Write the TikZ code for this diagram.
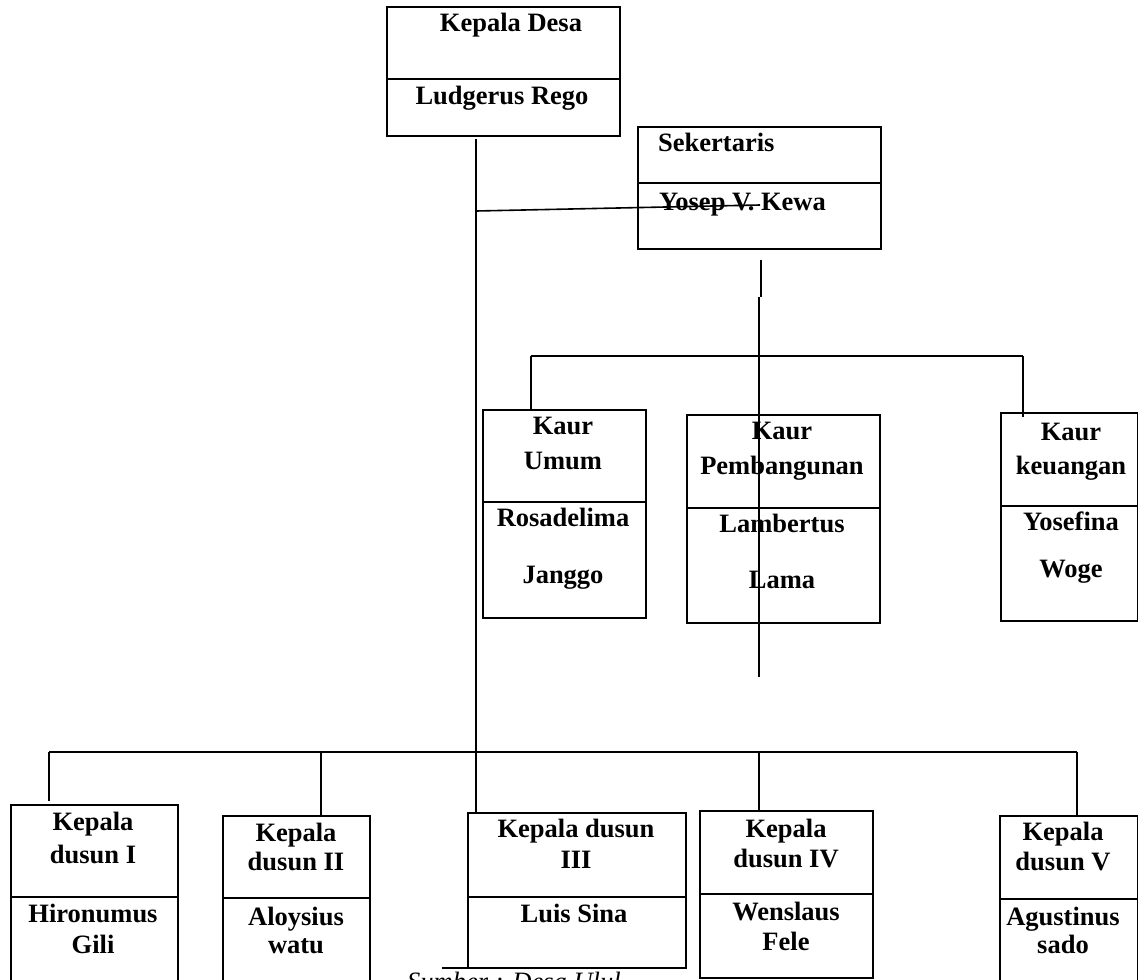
\documentclass[tikz,border=0pt]{standalone}
\usepackage{fontspec}
\setmainfont{Liberation Serif}
\tikzset{
  orgbox/.style={draw, line width=2.4pt, inner sep=0pt, anchor=north west},
  divline/.style={line width=2.4pt},
  conn/.style={line width=1.6pt},
  lbl/.style={font=\fontsize{26.5}{30}\selectfont\bfseries, anchor=base, inner sep=0pt},
  lblw/.style={lbl, anchor=base west},
  src/.style={font=\fontsize{26.5}{30}\selectfont\itshape, anchor=base west, inner sep=0pt},
}
% name, left, top, right, bottom, divider
\newcommand\mkbox[6]{%
  \node[orgbox, minimum width={(#4-#2)*1pt}, minimum height={(#5-#3)*1pt}] (#1) at (#2,#3) {};
  \draw[divline] (#1.west |- 0,#6) -- (#1.east |- 0,#6);
}
\begin{document}
\begin{tikzpicture}[x=1pt,y=-1pt]
\useasboundingbox (0,0) rectangle (1138,980);
\clip (0,0) rectangle (1138,980);

% boxes
\mkbox{kdesa}{386}{6}{619}{135}{79}
\mkbox{sek}{637}{126}{880}{248}{183}
\mkbox{kumum}{482}{409}{645}{617}{502}
\mkbox{kpemb}{686}{414}{879}{622}{508}
\mkbox{kkeu}{1000}{412}{1137}{620}{506}
\mkbox{dA}{10}{804}{177}{1005}{897}
\mkbox{dB}{222}{815}{369}{1005}{898}
\mkbox{dC}{467}{812}{685}{967}{897}
\mkbox{dD}{699}{810}{872}{977}{894}
\mkbox{dE}{999}{815}{1137}{1005}{899}

% texts
\node[lbl] (t1) at (511,31) {Kepala Desa};
\node[lbl] (t2) at (502,104) {Ludgerus Rego};
\node[lblw] (t3) at (658,151) {Sekertaris};
\node[lblw] (t4) at (659,210) {Yosep V. Kewa};

\node[lbl] (t5) at (563,434) {Kaur};
\node[lbl] (t6) at (563,469) {Umum};
\node[lbl] (t7) at (563,526) {Rosadelima};
\node[lbl] (t8) at (563,583) {Janggo};

\node[lbl] (t9) at (782,439) {Kaur};
\node[lbl] (t10) at (782,474) {Pembangunan};
\node[lbl] (t11) at (782,532) {Lambertus};
\node[lbl] (t12) at (782,588) {Lama};

\node[lbl] (t13) at (1071,440) {Kaur};
\node[lbl] (t14) at (1071,474) {keuangan};
\node[lbl] (t15) at (1071,530) {Yosefina};
\node[lbl] (t16) at (1071,577) {Woge};

\node[lbl] (t17) at (93,830) {Kepala};
\node[lbl] (t18) at (93,863) {dusun I};
\node[lbl] (t19) at (93,922) {Hironumus};
\node[lbl] (t20) at (93,953) {Gili};

\node[lbl] (t21) at (296,841) {Kepala};
\node[lbl] (t22) at (296,870) {dusun II};
\node[lbl] (t23) at (296,925) {Aloysius};
\node[lbl] (t24) at (296,953) {watu};

\node[lbl] (t25) at (576,837) {Kepala dusun};
\node[lbl] (t26) at (576,868) {III};
\node[lbl] (t27) at (574,922) {Luis Sina};

\node[lbl] (t28) at (786,837) {Kepala};
\node[lbl] (t29) at (786,867) {dusun IV};
\node[lbl] (t30) at (786,920) {Wenslaus};
\node[lbl] (t31) at (786,950) {Fele};

\node[lbl] (t32) at (1063,840) {Kepala};
\node[lbl] (t33) at (1063,870) {dusun V};
\node[lbl] (t34) at (1063,925) {Agustinus};
\node[lbl] (t35) at (1063,953) {sado};

\node[src] (t36) at (407,990) {Sumber : Desa Ulul};

% connector coordinates
\coordinate (vtop) at (476,139);
\coordinate (vsek) at (476,211);
\coordinate (sekend) at (760,205);
\coordinate (vbus) at (476,752);
\coordinate (stopA) at (761,260);
\coordinate (stopB) at (761,297);
\coordinate (smidB) at (759,297);
\coordinate (send) at (759,677);
\coordinate (kbusL) at (531,356);
\coordinate (kbusR) at (1023,356);
\coordinate (kkeuin) at (1023,417);
\coordinate (bbusL) at (49,752);
\coordinate (bbusR) at (1077,752);
\coordinate (bB) at (321,752);
\coordinate (bD) at (759,752);
\coordinate (srcL) at (442,968);
\coordinate (srcR) at (653,968);

% connectors
\draw[conn] (vtop) -- (vtop |- dC.north);
\draw[conn] (vsek) -- (sekend);
\draw[conn] (stopA) -- (stopB);
\draw[conn] (smidB) -- (send);
\draw[conn] (kbusL) -- (kbusR);
\draw[conn] (kbusL) -- (kbusL |- kumum.north);
\draw[conn] (kbusR) -- (kkeuin);
\draw[conn] (bbusL) -- (bbusR);
\draw[conn] (bbusL) -- (49,801);
\draw[conn] (bB) -- (bB |- dB.north);
\draw[conn] (bD) -- (bD |- dD.north);
\draw[conn] (bbusR) -- (bbusR |- dE.north);
\draw[conn] (srcL) -- (srcR);
\end{tikzpicture}
\end{document}
